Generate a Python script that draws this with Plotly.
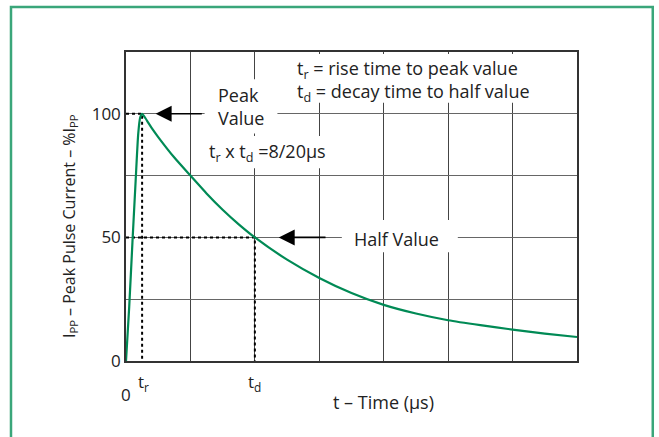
import plotly.graph_objects as go

# Pulse waveform (8/20 µs)
t_us = [0, 0.5, 1.0, 1.5, 1.9, 2.2, 2.5, 3.0, 3.5, 4.0, 5, 7.5, 10, 12.5, 15, 17.5, 20,
        25, 30, 35, 40, 45, 50, 55, 60, 65, 70]
i_pct = [0, 22, 48, 73, 92, 98.5, 100, 98.3, 96.2, 94.2, 90.6, 82.3, 75, 67.8, 61.2,
         55.3, 50, 41, 33.6, 27.5, 22.7, 19.2, 16.5, 14.5, 12.7, 11.1, 9.7]

t_r = 2.5      # drawn position of rise time
t_d = 20       # decay time to half value
peak = 100
half = 50

y_tickvals = [0, 25, 50, 75, 100]
y_ticktext = ["0", "", "50", "", "100"]

FONT = "Open Sans"
GREEN = "#008a55"

fig = go.Figure()

# dotted guide lines
fig.add_trace(go.Scatter(x=[0, t_r, t_r], y=[peak, peak, 0], mode="lines",
                         line=dict(color="black", width=2, dash="dot"),
                         hoverinfo="skip", showlegend=False))
fig.add_trace(go.Scatter(x=[0, t_d, t_d], y=[half, half, 0], mode="lines",
                         line=dict(color="black", width=2, dash="dot"),
                         hoverinfo="skip", showlegend=False))

fig.add_trace(go.Scatter(x=t_us, y=i_pct, mode="lines",
                         line=dict(color=GREEN, width=2.2, shape="spline", smoothing=0.6),
                         showlegend=False))

# white boxes masking grid behind texts (drawn between grid and traces)
boxes = [
    (23.3, 69.6, 104.5, 124.2),   # definitions box
    (12.2, 23.5, 92, 114),        # Peak Value
    (13.0, 31.0, 78, 91),         # tr x td
    (33.5, 51.5, 44, 57),         # Half Value
]
for x0, x1, y0, y1 in boxes:
    fig.add_shape(type="rect", xref="x", yref="y", x0=x0, x1=x1, y0=y0, y1=y1,
                  fillcolor="white", line=dict(width=0), layer="between")

# outer green frame
fig.add_shape(type="rect", xref="paper", yref="paper", x0=-0.255, x1=1.168,
              y0=-0.30, y1=1.146, line=dict(color="#3aa67a", width=2.5),
              fillcolor="rgba(0,0,0,0)", layer="above")

ann = []
tf = dict(family=FONT, size=18, color="#222")
C = dict(xanchor="center", yanchor="middle", showarrow=False)
ann.append(dict(x=26.3, y=118, xref="x", yref="y", xanchor="left", yanchor="middle",
                showarrow=False, text="t<sub>r</sub> = rise time to peak value", font=tf))
ann.append(dict(x=26.3, y=108.5, xref="x", yref="y", xanchor="left", yanchor="middle",
                showarrow=False, text="t<sub>d</sub> = decay time to half value", font=tf))
ann.append(dict(x=17.9, y=103, xref="x", yref="y", text="Peak<br>Value", font=tf,
                align="left", **C))
ann.append(dict(x=21.9, y=84.5, xref="x", yref="y",
                text="t<sub>r</sub> x t<sub>d</sub> =8/20µs", font=tf, **C))
ann.append(dict(x=42.0, y=49.5, xref="x", yref="y", text="Half Value", font=tf, **C))
# arrows
ann.append(dict(x=4.6, y=peak, ax=12.0, ay=peak, xref="x", yref="y", axref="x", ayref="y",
                text="", showarrow=True, arrowhead=2, arrowsize=2.0, arrowwidth=1.6,
                arrowcolor="black"))
ann.append(dict(x=23.7, y=half, ax=31.2, ay=half, xref="x", yref="y", axref="x", ayref="y",
                text="", showarrow=True, arrowhead=2, arrowsize=2.0, arrowwidth=1.6,
                arrowcolor="black"))
# x labels
xf = dict(family=FONT, size=17, color="#222")
ann.append(dict(x=0, y=-0.11, xref="x", yref="paper", text="0", font=xf, **C))
ann.append(dict(x=t_r + 0.2, y=-0.071, xref="x", yref="paper", text="t<sub>r</sub>",
                font=xf, **C))
ann.append(dict(x=t_d, y=-0.071, xref="x", yref="paper", text="t<sub>d</sub>",
                font=xf, **C))
ann.append(dict(x=40, y=-0.133, xref="x", yref="paper", text="t – Time (µs)",
                font=dict(family=FONT, size=18, color="#222"), **C))
ann.append(dict(x=-0.124, y=0.437, xref="paper", yref="paper", textangle=-90,
                text="I<sub>PP</sub> – Peak Pulse Current – %I<sub>PP</sub>",
                font=dict(family=FONT, size=16, color="#222"), **C))

fig.update_layout(
    width=659, height=437,
    margin=dict(l=126, r=82, t=52, b=76),
    paper_bgcolor="white", plot_bgcolor="white",
    annotations=ann,
    font=dict(family=FONT, color="#222"),
)
fig.update_xaxes(range=[0, 70], dtick=10, tick0=0, showticklabels=False,
                 showgrid=True, gridcolor="#444", gridwidth=1.2, zeroline=False,
                 showline=True, mirror=True, linecolor="#333", linewidth=1.5, ticks="")
fig.update_yaxes(range=[0, 125], tickvals=y_tickvals, ticktext=y_ticktext,
                 showgrid=True, gridcolor="#666", gridwidth=1.2, zeroline=False,
                 showline=True, mirror=True, linecolor="#333", linewidth=1.5, ticks="",
                 tickfont=dict(family=FONT, size=17, color="#222"))

fig.write_html("out.html", config={"displayModeBar": False},
               post_script="document.body.style.margin='0';"
                           "document.body.style.overflow='hidden';")
